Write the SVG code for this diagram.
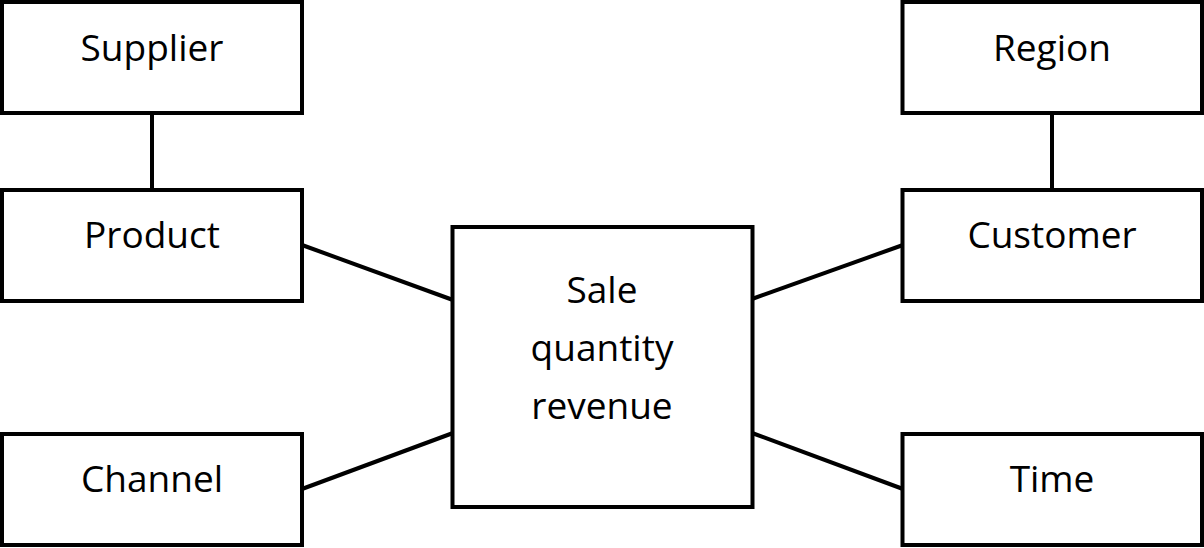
<svg xmlns="http://www.w3.org/2000/svg" width="1204" height="548" viewBox="0 0 1204 548">
<style>
.box{fill:#fff;stroke:#000;stroke-width:4}
.lbl{font-family:"Open Sans","Noto Sans","DejaVu Sans",sans-serif;font-size:37px;fill:#000;text-anchor:middle}
.con line{stroke:#000;stroke-width:4}
</style>
<rect width="1204" height="548" fill="#fff"/>
<g class="con" id="connectors">
<line x1="152" y1="113" x2="152" y2="190"/>
<line x1="1052" y1="113" x2="1052" y2="190"/>
<line x1="302" y1="245" x2="453" y2="300"/>
<line x1="302" y1="489" x2="453" y2="433"/>
<line x1="752" y1="299" x2="903" y2="245"/>
<line x1="752" y1="433" x2="903" y2="489"/>
</g>
<g id="supplier"><rect class="box" x="2" y="2" width="300" height="111"/><text class="lbl" x="152" y="61">Supplier</text></g>
<g id="product"><rect class="box" x="2" y="190" width="300" height="111"/><text class="lbl" x="152" y="248">Product</text></g>
<g id="channel"><rect class="box" x="2" y="434" width="300" height="111"/><text class="lbl" x="152" y="492">Channel</text></g>
<g id="region"><rect class="box" x="902.5" y="2" width="299.5" height="111"/><text class="lbl" x="1052" y="61">Region</text></g>
<g id="customer"><rect class="box" x="902.5" y="190" width="299.5" height="111"/><text class="lbl" x="1052" y="248">Customer</text></g>
<g id="time"><rect class="box" x="902.5" y="434" width="299.5" height="111"/><text class="lbl" x="1052" y="492">Time</text></g>
<g id="sale"><rect class="box" x="452.5" y="227" width="300" height="280"/>
<text class="lbl" x="602" y="303">Sale</text>
<text class="lbl" x="602" y="361">quantity</text>
<text class="lbl" x="602" y="419">revenue</text></g>
</svg>
